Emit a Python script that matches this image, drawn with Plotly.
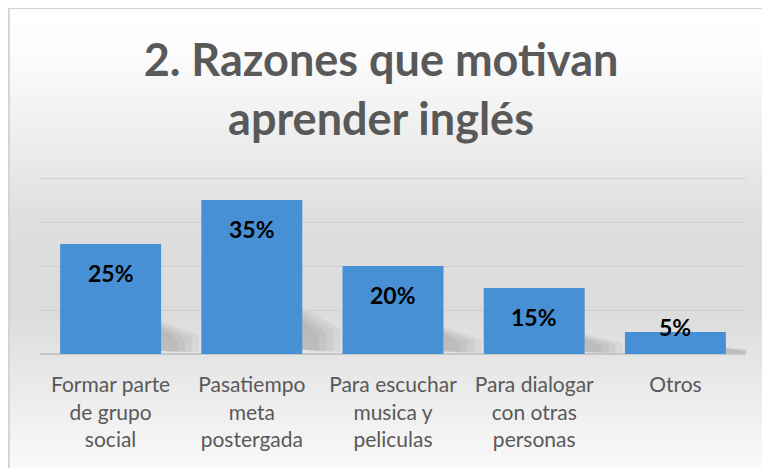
import base64
import plotly.graph_objects as go

categories = ['Formar parte<br>de grupo<br>social', 'Pasatiempo<br>meta<br>postergada',
              'Para escuchar<br>musica y<br>peliculas', 'Para dialogar<br>con otras<br>personas', 'Otros']
values = [0.25, 0.35, 0.20, 0.15, 0.05]
labels = ['25%', '35%', '20%', '15%', '5%']

W, H = 762, 468
L, R, T, B = 40, 16, 174, 114
pw, ph = W - L - R, H - T - B

# background gradient as an svg image
svg = ('<svg xmlns="http://www.w3.org/2000/svg" width="100" height="100" viewBox="0 0 100 100" preserveAspectRatio="none">'
       '<defs><linearGradient id="g" x1="0" y1="0" x2="0" y2="1">'
       '<stop offset="0" stop-color="#ffffff"/><stop offset="0.08" stop-color="#fdfdfd"/>'
       '<stop offset="0.3" stop-color="#ececec"/><stop offset="0.45" stop-color="#dedede"/>'
       '<stop offset="0.65" stop-color="#dcdcdc"/><stop offset="0.78" stop-color="#e8e8e8"/>'
       '<stop offset="1" stop-color="#fbfbfb"/></linearGradient></defs>'
       '<rect x="0" y="0" width="100" height="100" fill="url(#g)" stroke="#d4d4d4" stroke-width="0.5"/></svg>')
src = 'data:image/svg+xml;base64,' + base64.b64encode(svg.encode()).decode()

def px_x(p):
    return (p - L) / pw

def px_y(p):
    return (H - B - p) / ph

fig = go.Figure()
fig.add_trace(go.Bar(x=list(range(len(values))), y=values, marker_color='#4890d5',
                     marker_line_width=0, width=0.715, hoverinfo='skip'))

# soft shadows cast to the right of the bars
shapes = []
for i, v in enumerate(values):
    h = 0.3 * v
    x0 = i + 0.357
    for k in range(4):
        w = 0.27 - 0.05 * k
        top = h * (1 - 0.08 * k)
        shapes.append(dict(type='path', xref='x', yref='y', layer='below', line_width=0,
                           fillcolor='rgba(110,110,110,0.09)',
                           path='M %f,%f L %f,%f L %f,%f L %f,%f Z' % (
                               x0, h * 0.1, x0 + w, h * 0.05, x0 + w, top * 0.55, x0, top)))

annotations = []
for i, (v, t) in enumerate(zip(values, labels)):
    annotations.append(dict(x=i, y=v, text='<b>%s</b>' % t, showarrow=False, xref='x', yref='y',
                            yshift=-29 if v > 0.1 else 5, yanchor='middle',
                            font=dict(family='Lato', size=23, color='#000000')))

fig.update_layout(
    width=W, height=H, margin=dict(l=L, r=R, t=T, b=B),
    paper_bgcolor='white', plot_bgcolor='rgba(0,0,0,0)',
    title=dict(text='<b>2. Razones que motivan<br>aprender inglés</b>', x=0.5, xanchor='center',
               y=1 - 76 / H, yanchor='middle', font=dict(family='Lato', size=45, color='#595959')),
    images=[dict(source=src, xref='paper', yref='paper', x=px_x(8), y=px_y(8),
                 sizex=(W + 10 - 8) / pw, sizey=(H + 10 - 8) / ph, sizing='stretch',
                 xanchor='left', yanchor='top', layer='below')],
    shapes=shapes, annotations=annotations, showlegend=False,
)
fig.update_xaxes(tickvals=list(range(len(values))), ticktext=categories, range=[-0.5, 4.5],
                 ticks='outside', ticklen=12, tickcolor='rgba(0,0,0,0)', showgrid=False,
                 tickfont=dict(family='Lato', size=21, color='#595959'), showline=False, zeroline=False)
fig.update_yaxes(range=[0, ph / 440], dtick=0.1, showticklabels=False, gridcolor='#cfcfcf', gridwidth=1,
                 zeroline=True, zerolinecolor='#c6c6c6', zerolinewidth=2, showline=False)

fig.write_html('out.html', config={'displayModeBar': False},
               post_script="document.body.style.margin='0px';")
